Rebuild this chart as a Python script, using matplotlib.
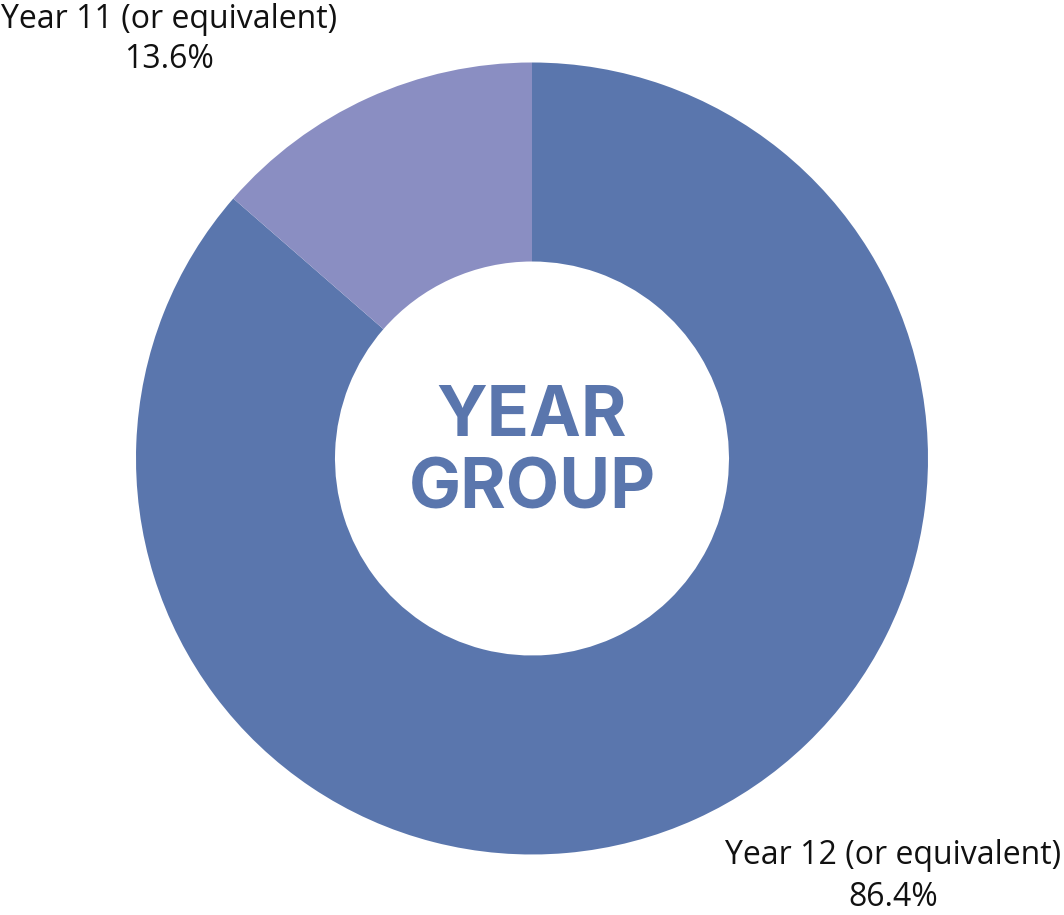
import matplotlib.pyplot as plt

# data
groups = ['Year 12 (or equivalent)', 'Year 11 (or equivalent)']
shares = [86.4, 13.6]
colors = ['#5A76AD', '#8A8EC2']

W, H = 1064, 915
fig = plt.figure(figsize=(W / 100, H / 100), dpi=100)
ax = fig.add_axes([0, 0, 1, 1])

cx, cy = 532, H - 458.5
R = 396
ax.pie(shares, colors=colors, startangle=90, counterclock=False,
       center=(cx, cy), radius=R, frame=True,
       wedgeprops=dict(width=R - 197, linewidth=0))
ax.set_xlim(0, W)
ax.set_ylim(0, H)
ax.set_aspect('equal')
ax.axis('off')

# centre title
ax.text(cx, H - 417, 'YEAR', ha='center', va='center', fontsize=50,
        fontweight='bold', family='Inter', color='#5A76AD')
ax.text(cx, H - 490, 'GROUP', ha='center', va='center', fontsize=50,
        fontweight='bold', family='Inter', color='#5A76AD')

# outside labels (pixel positions from top)
label_pos = {groups[0]: (893, 856), groups[1]: (169, 19)}
for g, s in zip(groups, shares):
    x, y = label_pos[g]
    ax.text(x, H - y, g, ha='center', va='center', fontsize=23,
            family='Open Sans', color='#111111')
    ax.text(x, H - y - 41, f'{s}%', ha='center', va='center', fontsize=23,
            family='Open Sans', color='#111111')

fig.savefig('out.png', dpi=100)
